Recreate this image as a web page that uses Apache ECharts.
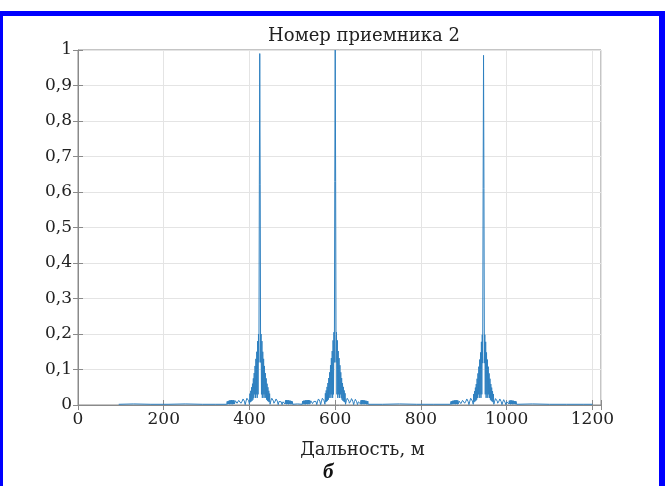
<!DOCTYPE html>
<html>
<head>
<meta charset="utf-8">
<script src="https://cdn.jsdelivr.net/npm/echarts@6/dist/echarts.min.js"></script>
<style>
  html, body { margin: 0; padding: 0; background: #ffffff; }
  #chart { width: 665px; height: 486px; }
</style>
</head>
<body>
<div id="chart"></div>
<script>
// Range axis ticks (m) and amplitude ticks
const xTicks = [0, 200, 400, 600, 800, 1000, 1200];
const yTicks = [0, 0.1, 0.2, 0.3, 0.4, 0.5, 0.6, 0.7, 0.8, 0.9, 1];

// Low-level floor between the responses: [distance m, amplitude]
const floorA = [[95, 0.002], [130, 0.003], [170, 0.002], [210, 0.002], [250, 0.003], [290, 0.002], [320, 0.002], [347, 0.002]];
const floorB = [[501, 0.002], [512, 0.003], [523, 0.002]];
const floorC = [[677, 0.002], [710, 0.002], [750, 0.003], [790, 0.002], [830, 0.002], [869, 0.002]];
const floorD = [[1023, 0.002], [1060, 0.003], [1100, 0.002], [1140, 0.002], [1180, 0.002], [1200, 0.002]];

// Compressed responses, sampled every 1 m starting at the given distance
const peak1Start = 348;
const peak1Amp = [
  0.010,0.002,0.011,0.003,0.012,0.002,0.013,0.003,0.013,0.002,
  0.014,0.003,0.013,0.002,0.014,0.003,0.013,
  0.003,0.008,0.012,0.013,0.012,0.009,0.005,0.001,
  0.004,0.009,0.013,0.015,0.015,0.013,0.010,0.005,0.001,
  0.006,0.011,0.015,0.017,0.017,0.015,0.011,0.006,0.001,
  0.005,0.011,0.016,0.019,0.020,0.019,0.016,0.012,0.007,0.002,
  0.032,0.008,0.040,0.010,0.050,0.012,0.060,0.015,0.075,0.020,0.090,0.030,
  0.110,0.020,0.130,0.030,0.150,0.020,0.180,0.030,0.200,0.120,0.620,
  0.990,
  0.620,0.120,0.200,0.030,0.180,0.020,0.150,0.030,0.130,0.020,
  0.110,0.030,0.090,0.020,0.075,0.015,0.060,0.012,0.050,0.010,
  0.040,0.008,0.032,0.002,0.007,0.012,0.016,0.019,0.020,0.019,
  0.016,0.011,0.005,0.001,0.006,0.011,0.015,0.017,0.017,0.015,
  0.011,0.006,0.001,0.005,0.010,0.013,0.015,0.015,0.013,0.009,
  0.004,0.001,0.005,0.009,0.012,0.013,0.012,0.008,0.003,0.013,
  0.003,0.014,0.002,0.013,0.003,0.014,0.002,0.013,0.003,0.012,
  0.002,0.012,0.003,0.011,0.002,0.010
];

const peak2Start = 524;
const peak2Amp = [
  0.011,0.002,0.012,0.003,0.012,0.002,0.013,0.002,0.014,0.003,
  0.013,0.002,0.014,0.003,0.014,0.002,0.013,
  0.003,0.008,0.012,0.014,0.012,0.009,0.004,0.001,
  0.005,0.010,0.013,0.015,0.016,0.013,0.010,0.005,0.001,
  0.006,0.011,0.015,0.017,0.018,0.015,0.011,0.006,0.001,
  0.005,0.011,0.016,0.019,0.021,0.019,0.016,0.012,0.007,0.002,
  0.033,0.008,0.041,0.010,0.051,0.012,0.062,0.015,0.076,0.020,0.092,0.030,
  0.112,0.020,0.132,0.030,0.152,0.020,0.182,0.030,0.205,0.120,0.630,
  1.000,
  0.630,0.120,0.205,0.030,0.182,0.020,0.152,0.030,0.132,0.020,
  0.112,0.030,0.092,0.020,0.076,0.015,0.062,0.012,0.051,0.010,
  0.041,0.008,0.033,0.002,0.007,0.012,0.016,0.019,0.021,0.019,
  0.016,0.011,0.005,0.001,0.006,0.011,0.015,0.018,0.017,0.015,
  0.011,0.006,0.001,0.005,0.010,0.013,0.016,0.015,0.013,0.009,
  0.004,0.001,0.005,0.009,0.012,0.014,0.012,0.008,0.003,0.013,
  0.002,0.014,0.003,0.014,0.002,0.013,0.003,0.013,0.002,0.012,
  0.003,0.012,0.002,0.011,0.002,0.011
];

const peak3Start = 870;
const peak3Amp = [
  0.010,0.002,0.011,0.002,0.012,0.003,0.012,0.002,0.013,0.003,
  0.013,0.002,0.014,0.003,0.013,0.002,0.013,
  0.003,0.008,0.011,0.013,0.012,0.008,0.004,0.001,
  0.004,0.009,0.013,0.015,0.015,0.012,0.009,0.005,0.001,
  0.006,0.011,0.015,0.017,0.017,0.014,0.010,0.005,0.001,
  0.005,0.011,0.016,0.019,0.020,0.018,0.015,0.011,0.006,0.002,
  0.031,0.008,0.039,0.010,0.049,0.012,0.059,0.015,0.074,0.020,0.089,0.030,
  0.108,0.020,0.128,0.030,0.148,0.020,0.178,0.030,0.198,0.118,0.610,
  0.985,
  0.610,0.118,0.198,0.030,0.178,0.020,0.148,0.030,0.128,0.020,
  0.108,0.030,0.089,0.020,0.074,0.015,0.059,0.012,0.049,0.010,
  0.039,0.008,0.031,0.002,0.006,0.011,0.015,0.018,0.020,0.019,
  0.016,0.011,0.005,0.001,0.006,0.011,0.015,0.017,0.017,0.014,
  0.010,0.006,0.001,0.005,0.009,0.013,0.015,0.015,0.012,0.008,
  0.004,0.001,0.005,0.009,0.012,0.013,0.011,0.008,0.003,0.012,
  0.003,0.013,0.002,0.013,0.003,0.013,0.002,0.012,0.003,0.012,
  0.002,0.011,0.003,0.011,0.002,0.010
];

function sampled(start, amps) {
  return amps.map((v, i) => [start + i, v]);
}

const lineData = [].concat(
  floorA, sampled(peak1Start, peak1Amp),
  floorB, sampled(peak2Start, peak2Amp),
  floorC, sampled(peak3Start, peak3Amp),
  floorD
);

const serif = 'DejaVu Serif';
const frameColor = '#8a8a8a';
const gridColor = '#e4e4e4';

const fmtY = v => {
  const r = Math.round(v * 10) / 10;
  return yTicks.indexOf(r) >= 0 ? String(r).replace('.', ',') : '';
};
const fmtX = v => (xTicks.indexOf(v) >= 0 ? String(v) : '');

const chart = echarts.init(document.getElementById('chart'), null, { renderer: 'canvas' });
chart.setOption({
  animation: false,
  backgroundColor: '#ffffff',
  title: {
    text: 'Номер приемника 2',
    left: 359,
    top: 22,
    textAlign: 'center',
    textStyle: { fontFamily: serif, fontWeight: 'normal', fontSize: 18, color: '#222' }
  },
  grid: {
    left: 78, top: 50, right: 64, bottom: 81,
    show: true, borderColor: frameColor, borderWidth: 1, backgroundColor: '#fff'
  },
  xAxis: [{
    type: 'value', min: 0, max: 1220, interval: 200,
    name: 'Дальность, м', nameLocation: 'middle', nameGap: 36,
    nameTextStyle: { fontFamily: serif, fontSize: 18, color: '#222', padding: [0, 0, 0, 46] },
    axisLine: { show: true, lineStyle: { color: frameColor } },
    axisTick: { show: true, inside: true, length: 5, lineStyle: { color: frameColor } },
    axisLabel: { formatter: fmtX, fontFamily: serif, fontSize: 17, color: '#222', margin: 6 },
    splitLine: { show: true, lineStyle: { color: gridColor, width: 1 } }
  }, {
    type: 'value', min: 0, max: 1220, interval: 200, position: 'top',
    axisLine: { show: false },
    axisTick: { show: true, inside: true, length: 5, lineStyle: { color: frameColor } },
    axisLabel: { show: false },
    splitLine: { show: false }
  }],
  yAxis: [{
    type: 'value', min: 0, max: 1, interval: 0.1,
    axisLine: { show: true, lineStyle: { color: frameColor } },
    axisTick: { show: true, inside: true, length: 5, lineStyle: { color: frameColor } },
    axisLabel: { formatter: fmtY, fontFamily: serif, fontSize: 17, color: '#222', margin: 6 },
    splitLine: { show: true, lineStyle: { color: gridColor, width: 1 } }
  }, {
    type: 'value', min: 0, max: 1, interval: 0.1, position: 'right',
    axisLine: { show: false },
    axisTick: { show: true, inside: true, length: 5, lineStyle: { color: frameColor } },
    axisLabel: { show: false },
    splitLine: { show: false }
  }],
  series: [{
    type: 'line',
    xAxisIndex: 0, yAxisIndex: 0,
    data: lineData,
    showSymbol: false,
    symbol: 'none',
    sampling: null,
    lineStyle: { color: '#2f80c0', width: 1 },
    z: 3
  }],
  graphic: [
    { type: 'rect', shape: { x: 0, y: 11, width: 665, height: 5 }, style: { fill: '#0000ff' }, silent: true },
    { type: 'rect', shape: { x: 0, y: 11, width: 3, height: 475 }, style: { fill: '#0000ff' }, silent: true },
    { type: 'rect', shape: { x: 659, y: 11, width: 6, height: 475 }, style: { fill: '#0000ff' }, silent: true },
    {
      type: 'text', left: 323, top: 462,
      style: { text: 'б', font: 'italic bold 21px "Liberation Serif"', fill: '#111' }
    }
  ]
});
</script>
</body>
</html>
